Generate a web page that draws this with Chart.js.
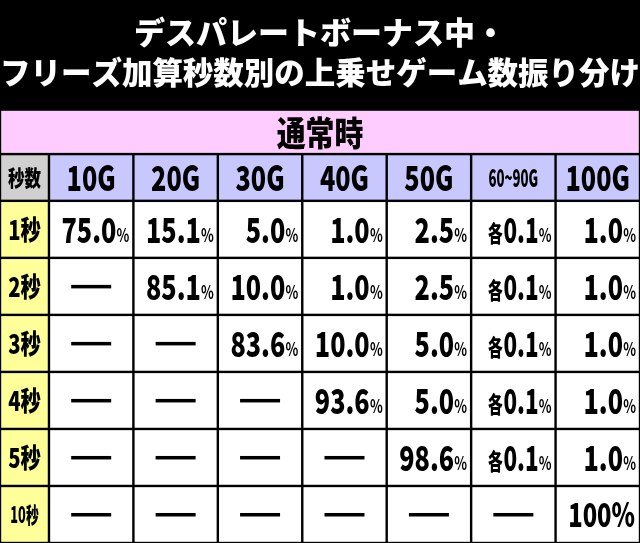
<!DOCTYPE html>
<html><head><meta charset="utf-8">
<script src="https://cdn.jsdelivr.net/npm/chart.js@4"></script>
<style>html,body{margin:0;padding:0;background:#000}#wrap{width:640px;height:543px}</style>
</head><body><div id="wrap"><canvas id="c"></canvas></div>
<script>
var titleLines = ['デスパレートボーナス中・', 'フリーズ加算秒数別の上乗せゲーム数振り分け'];
var sectionLabel = '通常時';
var cornerLabel = '秒数';
var columns = ['10G', '20G', '30G', '40G', '50G', '60~90G', '100G'];
var rows = ['1秒', '2秒', '3秒', '4秒', '5秒', '10秒'];
var row1 = ['75.0', '15.1', '5.0', '1.0', '2.5', '各0.1', '1.0'];
var row2 = ['—', '85.1', '10.0', '1.0', '2.5', '各0.1', '1.0'];
var row3 = ['—', '—', '83.6', '10.0', '5.0', '各0.1', '1.0'];
var row4 = ['—', '—', '—', '93.6', '5.0', '各0.1', '1.0'];
var row5 = ['—', '—', '—', '—', '98.6', '各0.1', '1.0'];
var row6 = ['—', '—', '—', '—', '—', '—', '100'];
var cells = [row1, row2, row3, row4, row5, row6];

// column/row edges in scale units (layout only)
var colEdges = [0, 0.58, 1.58, 2.58, 3.58, 4.58, 5.58, 6.58, 7.58];
var rowEdges = [0, 0.78, 1.6, 2.6, 3.6, 4.6, 5.6, 6.6, 7.6];

var FONT = '"Noto Sans CJK JP", sans-serif';
var W = '900 ';

function txt(ctx, s, x, y, size, align, sx) {
    ctx.save();
    ctx.font = W + size + 'px ' + FONT;
    ctx.textBaseline = 'middle';
    ctx.translate(x, y);
    ctx.scale(sx || 0.8, 1);
    ctx.textAlign = align || 'center';
    ctx.fillText(s, 0, 0);
    ctx.restore();
}

function drawValue(ctx, v, right, cx, y) {
    ctx.fillStyle = '#000';
    if (v === '—') {
        ctx.fillRect(cx - 20, y - 1.5, 40, 3.5);
        return;
    }
    if (v === '100') {
        txt(ctx, '100%', right - 5, y, 33, 'right', 0.72);
        return;
    }
    var pctW = 13;
    ctx.save();
    ctx.font = 'bold 19px ' + FONT;
    ctx.textBaseline = 'middle';
    ctx.textAlign = 'right';
    ctx.translate(right - 4, y + 5);
    ctx.scale(0.7, 1);
    ctx.fillText('%', 0, 0);
    ctx.restore();
    var x = right - 4 - pctW;
    var main = v, pre = '';
    if (v.indexOf('各') === 0) { pre = '各'; main = v.slice(1); }
    ctx.save();
    ctx.font = W + '35px ' + FONT;
    ctx.textBaseline = 'middle';
    ctx.textAlign = 'right';
    ctx.translate(x, y);
    ctx.scale(pre ? 0.64 : 0.72, 1);
    ctx.fillText(main, 0, 0);
    var w = ctx.measureText(main).width;
    if (pre) {
        ctx.font = W + '23px ' + FONT;
        ctx.fillText(pre, -w - 1, 4);
    }
    ctx.restore();
}

var tablePlugin = {
    id: 'table',
    beforeDraw: function (chart) {
        var ctx = chart.ctx;
        ctx.fillStyle = '#000';
        ctx.fillRect(0, 0, chart.width, chart.height);
    },
    afterDraw: function (chart) {
        var ctx = chart.ctx, xs = chart.scales.x, ys = chart.scales.y;
        var X = function (i) { return xs.getPixelForValue(colEdges[i]); };
        var Y = function (i) { return ys.getPixelForValue(rowEdges[i]); };
        var g = 1.2;
        function cell(c0, c1, r0, r1, color) {
            ctx.fillStyle = color;
            ctx.fillRect(X(c0) + g, Y(r0) + g, X(c1) - X(c0) - 2 * g, Y(r1) - Y(r0) - 2 * g);
        }
        cell(0, 8, 0, 1, '#ffccff');
        ctx.fillStyle = '#000';
        txt(ctx, sectionLabel, (X(0) + X(8)) / 2, (Y(0) + Y(1)) / 2 + 1, 34, 'center', 0.85);
        cell(0, 1, 1, 2, '#d0d0d0');
        ctx.fillStyle = '#000';
        txt(ctx, cornerLabel, (X(0) + X(1)) / 2, (Y(1) + Y(2)) / 2, 22, 'center', 0.75);
        columns.forEach(function (c, i) {
            cell(i + 1, i + 2, 1, 2, '#c8c8ff');
            ctx.fillStyle = '#000';
            var small = c.length > 4;
            txt(ctx, c, (X(i + 1) + X(i + 2)) / 2, (Y(1) + Y(2)) / 2, small ? 24 : 35, 'center', small ? 0.55 : 0.72);
        });
        rows.forEach(function (r, j) {
            var yc = (Y(j + 2) + Y(j + 3)) / 2;
            cell(0, 1, j + 2, j + 3, '#ffff99');
            ctx.fillStyle = '#000';
            txt(ctx, r, (X(0) + X(1)) / 2, yc, r.length > 2 ? 22 : 27, 'center', r.length > 2 ? 0.58 : 0.75);
            cells[j].forEach(function (v, i) {
                cell(i + 1, i + 2, j + 2, j + 3, '#ffffff');
                drawValue(ctx, v, X(i + 2), (X(i + 1) + X(i + 2)) / 2, yc);
            });
        });
    }
};

new Chart(document.getElementById('c'), {
    type: 'scatter',
    data: { datasets: [{ data: [] }] },
    options: {
        responsive: true,
        maintainAspectRatio: false,
        animation: false,
        layout: { padding: 0 },
        plugins: {
            legend: { display: false },
            tooltip: { enabled: false },
            title: {
                display: true,
                text: titleLines,
                color: '#fff',
                font: { family: FONT, size: 31, weight: '900', lineHeight: 1.3 },
                padding: { top: 12, bottom: 17 }
            }
        },
        scales: {
            x: { type: 'linear', display: false, min: 0, max: colEdges[8] },
            y: { type: 'linear', display: false, reverse: true, min: 0, max: rowEdges[8] }
        }
    },
    plugins: [tablePlugin]
});
</script></body></html>
